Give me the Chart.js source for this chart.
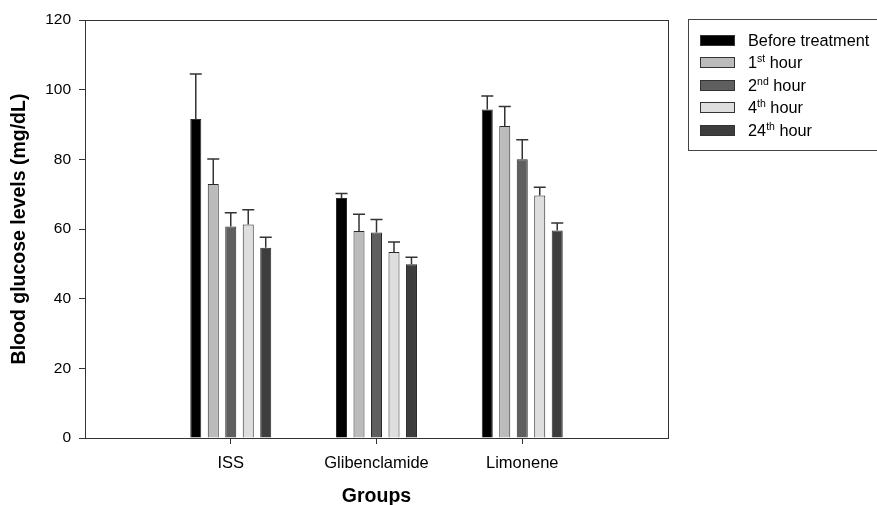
<!DOCTYPE html>
<html>
<head>
<meta charset="utf-8">
<script src="https://cdn.jsdelivr.net/npm/chart.js@4"></script>
<style>
  body { margin: 0; background: #fff; overflow: hidden; }
  #wrap { position: relative; width: 877px; height: 505px; }
  #legend {
    position: absolute; left: 688px; top: 19px; width: 200px; height: 132px;
    border: 1px solid #444; box-sizing: border-box;
    font-family: "Liberation Sans", Arial, sans-serif; font-size: 16.3px; color: #000;
  }
  .item { position: absolute; left: 11px; height: 22px; display: flex; align-items: center; }
  .sw { width: 35px; height: 11px; border: 1px solid #333; box-sizing: border-box; margin-right: 13px; }
  sup { font-size: 10.5px; vertical-align: 0; position: relative; top: -6px; }
</style>
</head>
<body>
<div id="wrap">
  <canvas id="chart" width="877" height="505"></canvas>
  <div id="legend"></div>
</div>
<script>
// values
const groups = ["ISS", "Glibenclamide", "Limonene"];
const seriesNames = ["Before treatment", "1st hour", "2nd hour", "4th hour", "24th hour"];
const seriesColors = ["#000000", "#bbbbbb", "#5f5f5f", "#dedede", "#3d3d3d"];

const before = [91.6, 68.9, 94.3];
const hour1 = [72.9, 59.4, 89.6];
const hour2 = [60.7, 59.0, 80.0];
const hour4 = [61.3, 53.4, 69.6];
const hour24 = [54.6, 49.9, 59.6];

const beforeErr = [12.9, 1.3, 3.9];
const hour1Err = [7.2, 4.8, 5.6];
const hour2Err = [4.0, 3.7, 5.6];
const hour4Err = [4.2, 2.9, 2.4];
const hour24Err = [3.0, 2.0, 2.1];

const yTicks = [0, 20, 40, 60, 80, 100, 120];

const values = [before, hour1, hour2, hour4, hour24];
const errors = [beforeErr, hour1Err, hour2Err, hour4Err, hour24Err];

// empty slots either side so the groups sit at 1/4, 2/4, 3/4 of the axis
const labels = ["", ...groups, ""];
const pad = arr => [null, ...arr, null];

const FONT = "'Liberation Sans', Arial, sans-serif";

const errorBars = {
  id: "errorBars",
  afterDatasetsDraw(chart) {
    const ctx = chart.ctx;
    const y = chart.scales.y;
    ctx.save();
    ctx.strokeStyle = "#333";
    ctx.lineWidth = 1.5;
    chart.data.datasets.forEach((ds, di) => {
      const meta = chart.getDatasetMeta(di);
      meta.data.forEach((bar, i) => {
        if (ds.data[i] == null) return;
        const top = y.getPixelForValue(ds.data[i] + ds.err[i]);
        const half = bar.width / 2 + 0.5;
        ctx.beginPath();
        ctx.moveTo(bar.x, bar.y);
        ctx.lineTo(bar.x, top);
        ctx.moveTo(bar.x - half, top);
        ctx.lineTo(bar.x + half, top);
        ctx.stroke();
      });
    });
    ctx.restore();
  }
};

const frame = {
  id: "frame",
  afterDraw(chart) {
    const a = chart.chartArea;
    const ctx = chart.ctx;
    ctx.save();
    ctx.strokeStyle = "#333";
    ctx.lineWidth = 1;
    ctx.strokeRect(Math.round(a.left) + 0.5, Math.round(a.top) + 0.5,
      Math.round(a.right - a.left), Math.round(a.bottom - a.top));
    ctx.restore();
  }
};

const chart = new Chart(document.getElementById("chart"), {
  type: "bar",
  data: {
    labels: labels,
    datasets: seriesNames.map((name, k) => ({
      label: name,
      data: pad(values[k]),
      err: pad(errors[k]),
      backgroundColor: seriesColors[k],
      borderColor: "#2a2a2a",
      borderWidth: 1,
      categoryPercentage: 0.6,
      barPercentage: 0.63,
    })),
  },
  options: {
    responsive: false,
    animation: false,
    layout: { padding: { top: 20, right: 209, left: 0, bottom: 0 } },
    plugins: {
      legend: { display: false },
      tooltip: { enabled: false },
    },
    scales: {
      x: {
        offset: false,
        grid: {
          offset: false,
          drawOnChartArea: false,
          tickLength: 6,
          color: c => (c.index === 0 || c.index === labels.length - 1) ? "rgba(0,0,0,0)" : "#333",
        },
        border: { color: "#333", width: 1 },
        ticks: { color: "#000", font: { family: FONT, size: 16.5 }, padding: 10, maxRotation: 0, autoSkip: false },
        title: { display: true, text: "Groups", color: "#000", font: { family: FONT, size: 19.5, weight: "bold" }, padding: { top: 0, bottom: -3 } },
        afterFit: s => { s.height = 67; },
      },
      y: {
        min: 0,
        max: 120,
        afterBuildTicks: s => { s.ticks = yTicks.map(v => ({ value: v })); },
        grid: { drawOnChartArea: false, tickLength: 6, color: "#333" },
        border: { color: "#333", width: 1 },
        ticks: { color: "#000", font: { family: FONT, size: 15.5 }, padding: 8 },
        title: { display: true, text: "Blood glucose levels (mg/dL)", color: "#000", font: { family: FONT, size: 19.5, weight: "bold" }, padding: { top: 8, bottom: 0 } },
        afterFit: s => { s.width = 85; },
      },
    },
  },
  plugins: [errorBars, frame],
});

// html legend so the ordinal suffixes can be superscript
const legend = document.getElementById("legend");
chart.data.datasets.forEach((ds, k) => {
  const row = document.createElement("div");
  row.className = "item";
  row.style.top = (9 + k * 22.5) + "px";
  const sw = document.createElement("span");
  sw.className = "sw";
  sw.style.background = ds.backgroundColor;
  const txt = document.createElement("span");
  txt.innerHTML = ds.label.replace(/^(\d+)(st|nd|rd|th)/, "$1<sup>$2</sup>");
  row.appendChild(sw);
  row.appendChild(txt);
  legend.appendChild(row);
});
</script>
</body>
</html>
